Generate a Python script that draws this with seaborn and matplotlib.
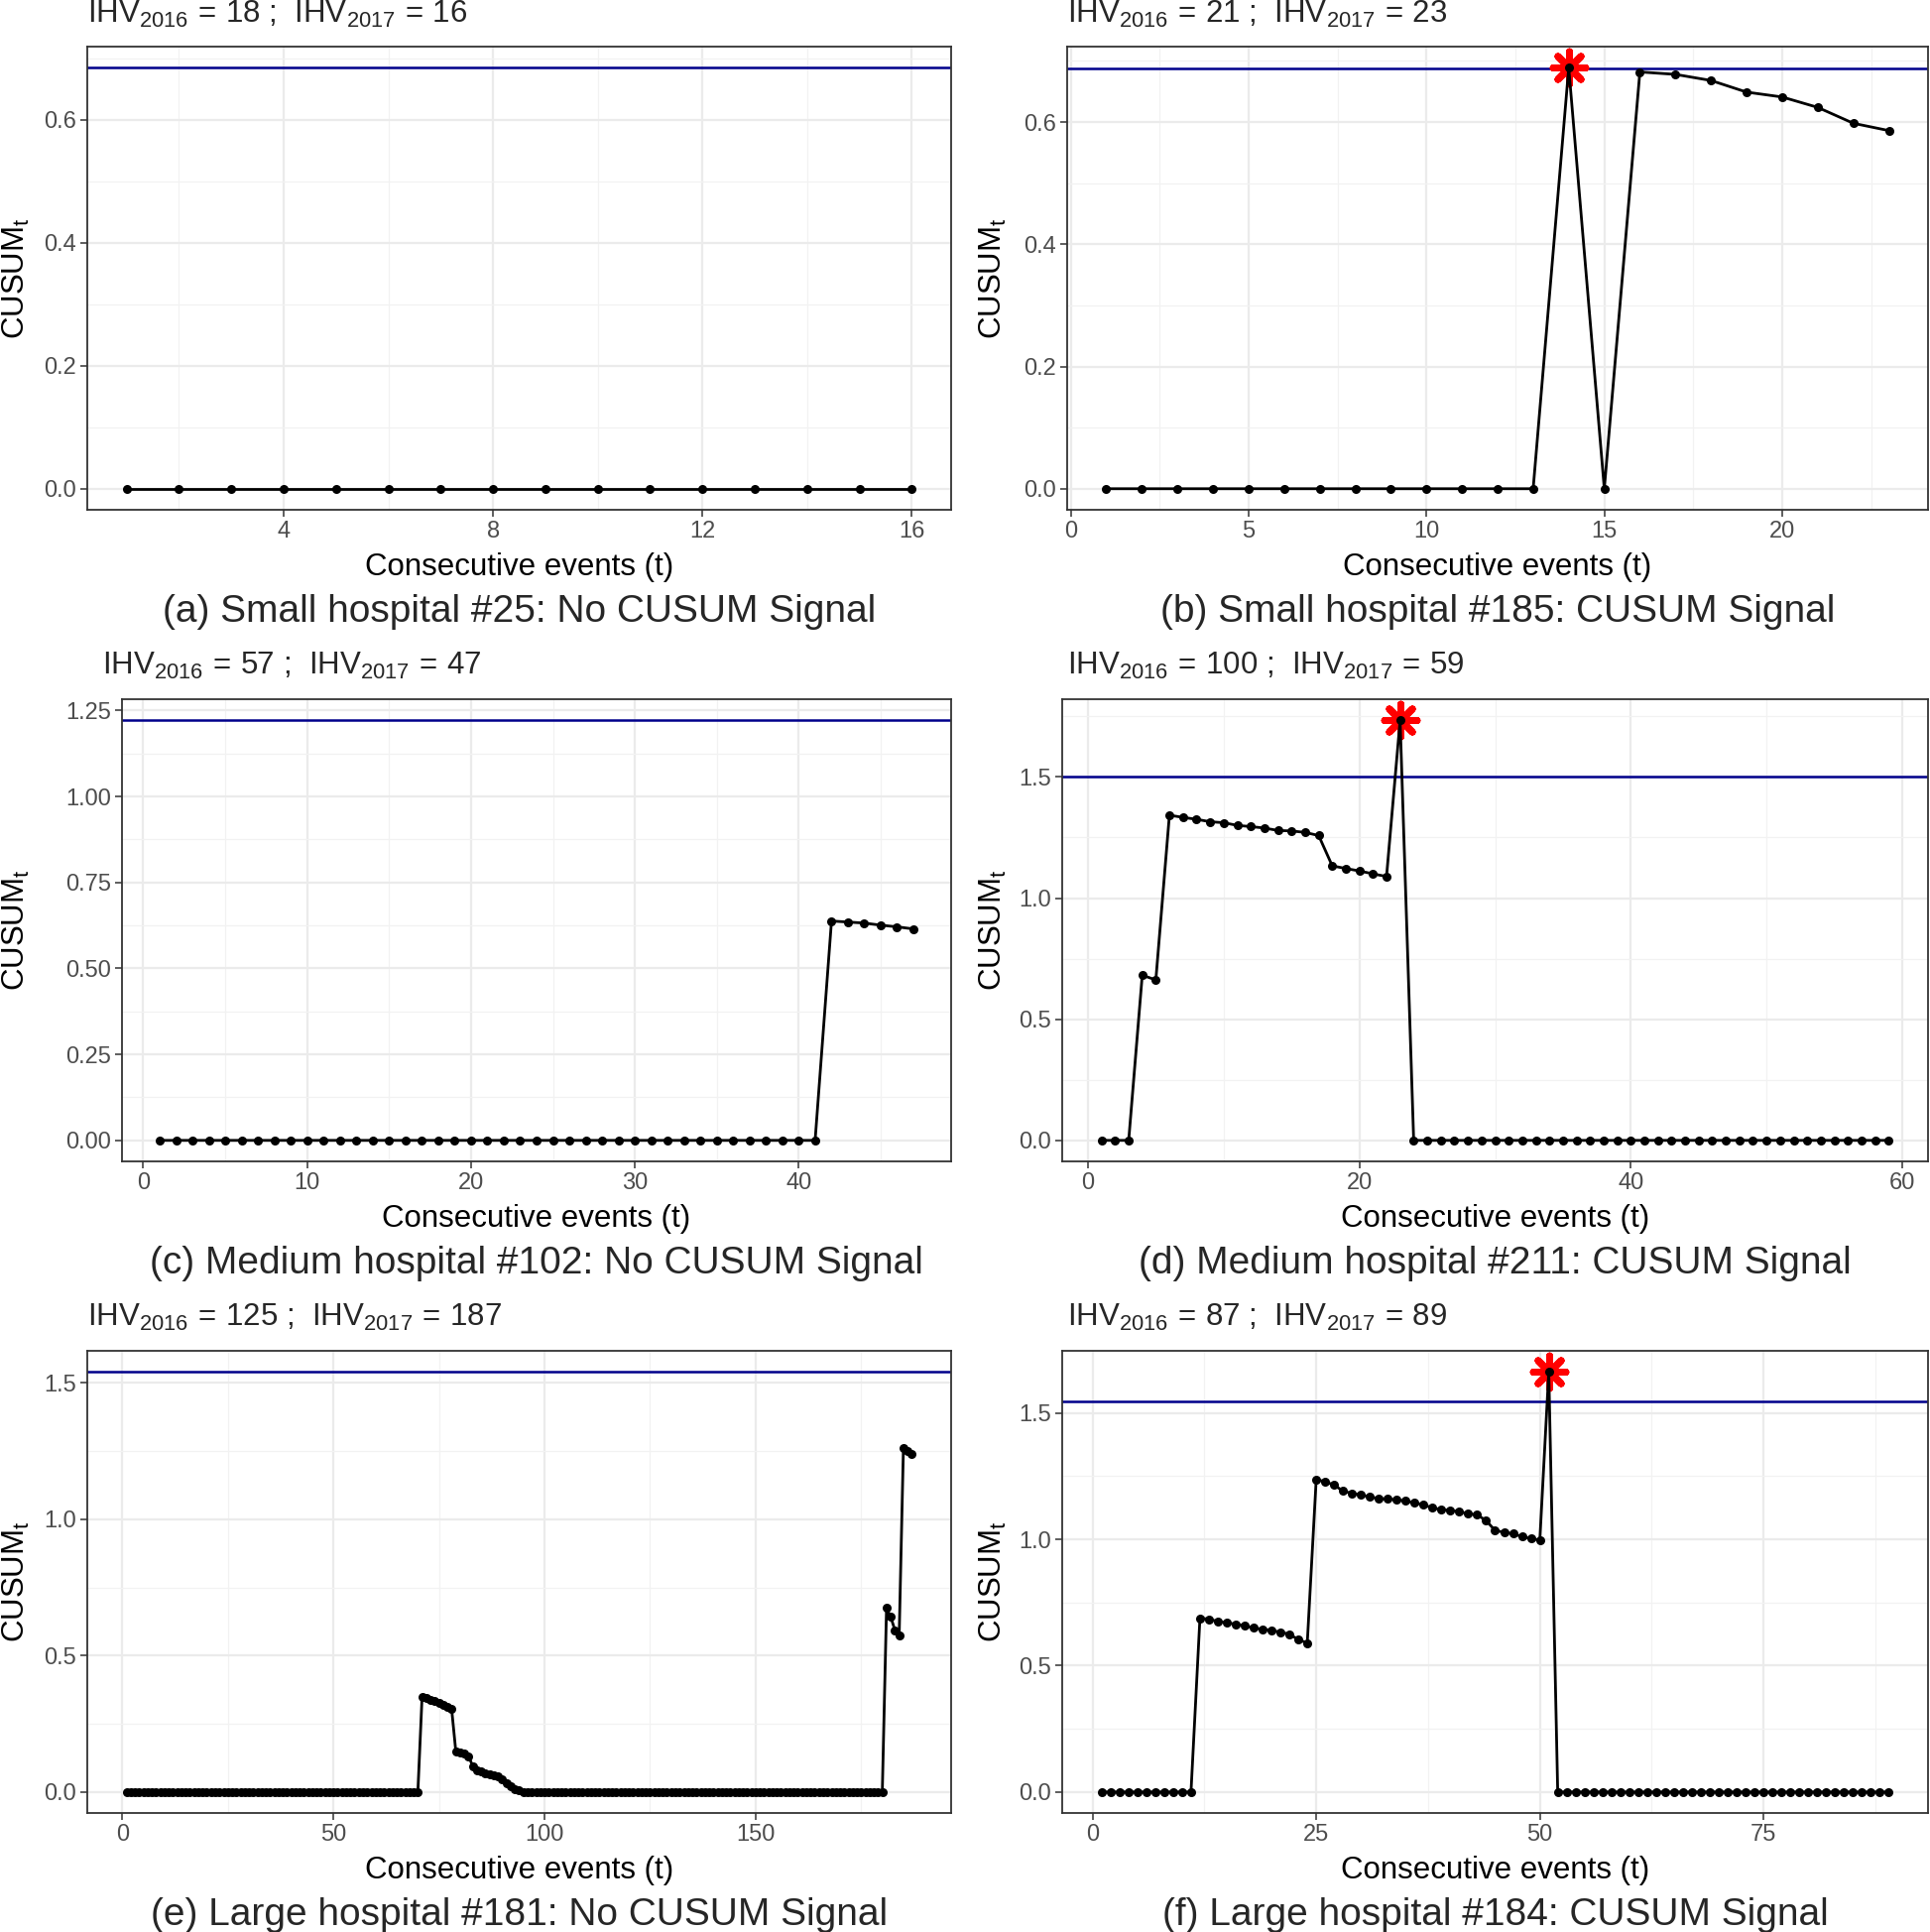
import numpy as np
import pandas as pd
import matplotlib
matplotlib.use("Agg")
import matplotlib.pyplot as plt
from matplotlib.ticker import MultipleLocator, FormatStrFormatter
import seaborn as sns

# ---------------- data ----------------
cusum_a = [0.0] * 16
cusum_b = [0.0] * 13 + [0.689, 0.0, 0.682, 0.678, 0.668, 0.649, 0.641, 0.624, 0.598, 0.586]
cusum_c = [0.0] * 41 + [0.638, 0.635, 0.632, 0.626, 0.621, 0.615]
cusum_d = [0.0, 0.0, 0.0, 0.682, 0.662, 1.342, 1.333, 1.325, 1.315, 1.311, 1.300, 1.295,
           1.289, 1.279, 1.277, 1.271, 1.258, 1.133, 1.122, 1.112, 1.100, 1.089, 1.734] + [0.0] * 36
cusum_e = ([0.0] * 70 +
           [0.350, 0.344, 0.338, 0.332, 0.326, 0.320, 0.313, 0.304,
            0.147, 0.143, 0.140, 0.131, 0.095, 0.080, 0.074, 0.070, 0.066, 0.062, 0.057,
            0.046, 0.033, 0.022, 0.012, 0.006] +
           [0.0] * 86 +
           [0.674, 0.641, 0.593, 0.574, 1.260, 1.250, 1.238])
cusum_f = ([0.0] * 11 +
           [0.688, 0.684, 0.675, 0.670, 0.664, 0.658, 0.649, 0.644, 0.640, 0.632, 0.625, 0.603, 0.590,
            1.237, 1.228, 1.215, 1.191, 1.182, 1.176, 1.168, 1.161, 1.160, 1.156, 1.152, 1.144, 1.137,
            1.124, 1.118, 1.114, 1.110, 1.101, 1.097, 1.074, 1.035, 1.028, 1.022, 1.011, 1.003, 0.997,
            1.663] +
           [0.0] * 38)

thresholds = [0.685, 0.687, 1.222, 1.500, 1.540, 1.546]
signal_t = [None, 14, None, 23, None, 51]
ihv_2016 = [18, 21, 57, 100, 125, 87]
ihv_2017 = [16, 23, 47, 59, 187, 89]
captions = ["(a) Small hospital #25: No CUSUM Signal",
            "(b) Small hospital #185: CUSUM Signal",
            "(c) Medium hospital #102: No CUSUM Signal",
            "(d) Medium hospital #211: CUSUM Signal",
            "(e) Large hospital #181: No CUSUM Signal",
            "(f) Large hospital #184: CUSUM Signal"]
x_major = [4, 5, 10, 20, 50, 25]
y_major = [0.2, 0.2, 0.25, 0.5, 0.5, 0.5]
y_fmt = ["%.1f", "%.1f", "%.2f", "%.1f", "%.1f", "%.1f"]

series = [cusum_a, cusum_b, cusum_c, cusum_d, cusum_e, cusum_f]

# ---------------- style ----------------
sns.set_theme(style="whitegrid")
plt.rcParams['font.family'] = ['Liberation Sans', 'DejaVu Sans']
plt.rcParams['mathtext.fontset'] = 'custom'
plt.rcParams['mathtext.rm'] = 'Liberation Sans'
plt.rcParams['mathtext.it'] = 'Liberation Sans'
plt.rcParams['mathtext.default'] = 'rm'

W, H = 1946, 1948
fig = plt.figure(figsize=(W / 100, H / 100), dpi=100)
fig.patch.set_facecolor("white")

# panel boxes in pixels: left, right, top, bottom
boxes = [(88, 959, 47, 514), (1076, 1944, 47, 514),
         (123, 959, 705, 1171), (1071, 1944, 705, 1171),
         (88, 959, 1362, 1828), (1071, 1944, 1362, 1828)]
sub_x = [88, 1076, 103, 1076, 88, 1076]
sub_y = [23, 23, 680, 680, 1337, 1337]
ylab_x = [16, 1001, 16, 1001, 16, 1001]   # centre of rotated label
cap_ys = [617, 617, 1274, 1274, 1931, 1931]

for i, vals in enumerate(series):
    l, r, t, b = boxes[i]
    ax = fig.add_axes([l / W, 1 - b / H, (r - l) / W, (b - t) / H])
    n = len(vals)
    tt = np.arange(1, n + 1)
    df = pd.DataFrame({"t": tt, "cusum": vals})

    ax.axhline(thresholds[i], color="#00008B", lw=1.8, zorder=2)
    if signal_t[i] is not None:
        row = df[df.t == signal_t[i]]
        sns.scatterplot(data=row, x="t", y="cusum", marker=(8, 2, 0), s=560,
                        color="red", linewidth=5, ax=ax, zorder=3, legend=False)
    sns.lineplot(data=df, x="t", y="cusum", color="black", lw=2, marker="o",
                 markersize=6.5, markeredgewidth=0, ax=ax, zorder=4)

    # limits with ggplot-like 5% expansion
    ymax = max(max(vals), thresholds[i])
    ax.set_ylim(-0.05 * ymax, ymax * 1.05)
    ax.set_xlim(1 - 0.05 * (n - 1), n + 0.05 * (n - 1))

    ax.xaxis.set_major_locator(MultipleLocator(x_major[i]))
    ax.xaxis.set_minor_locator(MultipleLocator(x_major[i] / 2))
    ax.yaxis.set_major_locator(MultipleLocator(y_major[i]))
    ax.yaxis.set_minor_locator(MultipleLocator(y_major[i] / 2))
    ax.yaxis.set_major_formatter(FormatStrFormatter(y_fmt[i]))

    ax.grid(which="major", color="#EBEBEB", lw=1.6)
    ax.grid(which="minor", color="#F2F2F2", lw=0.9)
    ax.set_axisbelow(True)
    for sp in ax.spines.values():
        sp.set_color("#333333")
        sp.set_linewidth(1.3)
    ax.tick_params(which="major", length=5, width=1.1, color="#333333",
                   labelsize=17, labelcolor="#4D4D4D", pad=3, bottom=True, left=True)
    ax.tick_params(which="minor", length=0)

    ax.set_xlabel("Consecutive events (t)", fontsize=22.5, color="black", labelpad=7)
    ax.set_ylabel(r"CUSUM$_t$", fontsize=22.5, color="black", va="center")
    ax.yaxis.set_label_coords(ylab_x[i] / W, 1 - ((t + b) / 2) / H, transform=fig.transFigure)

    fig.text(sub_x[i] / W, 1 - sub_y[i] / H,
             r"IHV$_{2016}$$\,=\,$%d ;  IHV$_{2017}$$\,=\,$%d" % (ihv_2016[i], ihv_2017[i]),
             fontsize=22.5, ha="left", va="baseline")
    fig.text(((l + r) / 2) / W, 1 - cap_ys[i] / H, captions[i], fontsize=28,
             ha="center", va="center")

fig.savefig("out.png", dpi=100, facecolor="white")
